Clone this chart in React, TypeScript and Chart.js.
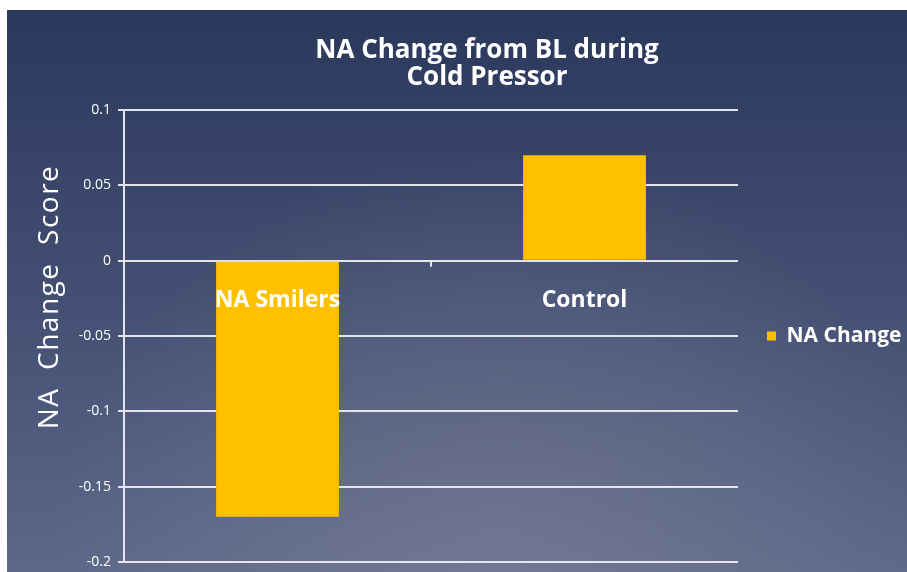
import { useEffect, useRef } from "react";
import { Chart, registerables } from "chart.js";

Chart.register(...registerables);

// Chart content
const categories = ["NA Smilers", "Control"];
const naChange = [-0.17, 0.07];
const yTicks = [0.1, 0.05, 0, -0.05, -0.1, -0.15, -0.2];
const seriesLabel = "NA Change";
const titleLines = ["NA Change from BL during", "Cold Pressor"];
const yAxisTitle = "NA  Change  Score";

const FONT = "'Open Sans', 'DejaVu Sans', sans-serif";
const W = 907;
const H = 572;

// Slide-style backdrop: white margin strip, navy-to-slate gradient with a soft glow near the bottom
const backdrop = {
  id: "backdrop",
  beforeDraw(chart: Chart) {
    const { ctx, width, height } = chart;
    ctx.save();
    ctx.fillStyle = "#ffffff";
    ctx.fillRect(0, 0, width, height);
    const g = ctx.createLinearGradient(0, 10, 0, height);
    g.addColorStop(0, "#2a385c");
    g.addColorStop(0.5, "#434f72");
    g.addColorStop(1, "#5c6889");
    ctx.fillStyle = g;
    ctx.fillRect(7, 10, width - 7, height - 10);
    const r = ctx.createRadialGradient(width * 0.55, height * 1.05, 20, width * 0.55, height * 1.05, width * 0.5);
    r.addColorStop(0, "rgba(140,140,160,0.45)");
    r.addColorStop(1, "rgba(140,140,160,0)");
    ctx.fillStyle = r;
    ctx.fillRect(7, 10, width - 7, height - 10);
    ctx.restore();
  },
};

// Category names sit just below the zero line, plus the tick mark between categories
const categoryLabels = {
  id: "categoryLabels",
  afterDatasetsDraw(chart: Chart) {
    const { ctx } = chart;
    const xs = chart.scales.x;
    const ys = chart.scales.y;
    const y0 = ys.getPixelForValue(0);
    ctx.save();
    ctx.strokeStyle = "rgba(236,236,242,0.95)";
    ctx.lineWidth = 2;
    for (let i = 0; i < categories.length - 1; i++) {
      const xm = (xs.getPixelForValue(i) + xs.getPixelForValue(i + 1)) / 2;
      ctx.beginPath();
      ctx.moveTo(xm, y0);
      ctx.lineTo(xm, y0 + 6);
      ctx.stroke();
    }
    ctx.fillStyle = "#ffffff";
    ctx.font = `bold 23px ${FONT}`;
    ctx.textAlign = "center";
    ctx.textBaseline = "middle";
    categories.forEach((c, i) => {
      ctx.fillText(c, xs.getPixelForValue(i), y0 + 40);
    });
    ctx.restore();
  },
};

// Two-line heading and the rotated value-axis title
const headings = {
  id: "headings",
  afterDraw(chart: Chart) {
    const { ctx } = chart;
    ctx.save();
    ctx.fillStyle = "#ffffff";
    ctx.textAlign = "center";
    ctx.textBaseline = "alphabetic";
    ctx.font = `bold 26px ${FONT}`;
    titleLines.forEach((line, i) => {
      ctx.fillText(line, 487, 58 + i * 27);
    });
    ctx.translate(50, 297);
    ctx.rotate(-Math.PI / 2);
    ctx.font = `28px ${FONT}`;
    (ctx as any).letterSpacing = "1.5px";
    ctx.textBaseline = "middle";
    ctx.fillText(yAxisTitle, 0, 0);
    ctx.restore();
  },
};

export default function App() {
  const canvasRef = useRef<HTMLCanvasElement | null>(null);

  useEffect(() => {
    document.body.style.margin = "0";
    const canvas = canvasRef.current;
    if (!canvas) return;
    const chart = new Chart(canvas, {
      type: "bar",
      data: {
        labels: categories,
        datasets: [
          {
            label: seriesLabel,
            data: naChange,
            backgroundColor: "#ffc000",
            borderWidth: 0,
            barPercentage: 0.4,
            categoryPercentage: 1.0,
          },
        ],
      },
      options: {
        responsive: false,
        animation: false,
        devicePixelRatio: 1,
        layout: { padding: { top: 110, bottom: 10, left: 0, right: 0 } },
        font: { family: FONT },
        scales: {
          x: {
            display: false,
            offset: true,
          },
          y: {
            min: -0.2,
            max: 0.1,
            afterBuildTicks(scale: any) {
              scale.ticks = yTicks.map((v) => ({ value: v }));
            },
            afterFit(scale: any) {
              scale.width = 124;
              scale.paddingTop = 0;
              scale.paddingBottom = 0;
            },
            ticks: {
              color: "#ffffff",
              font: { family: FONT, size: 14 },
              padding: 7,
              callback: (v: any) => String(Number(Number(v).toFixed(2))),
            },
            grid: {
              color: "rgba(236,236,242,0.95)",
              lineWidth: 2,
              tickLength: 6,
            },
            border: { display: true, color: "rgba(236,236,242,0.95)", width: 2 },
          },
        },
        plugins: {
          title: { display: false },
          tooltip: { enabled: false },
          legend: {
            display: true,
            position: "right",
            maxWidth: 169,
            labels: {
              color: "#ffffff",
              font: { family: FONT, size: 21, weight: "bold" },
              boxWidth: 9,
              boxHeight: 9,
              padding: 29,
            },
          },
        },
      },
      plugins: [backdrop, categoryLabels, headings],
    });
    return () => chart.destroy();
  }, []);

  return (
    <div style={{ position: "absolute", left: 0, top: 0, width: W, height: H }}>
      <canvas ref={canvasRef} width={W} height={H} style={{ width: W, height: H, display: "block" }} />
    </div>
  );
}
